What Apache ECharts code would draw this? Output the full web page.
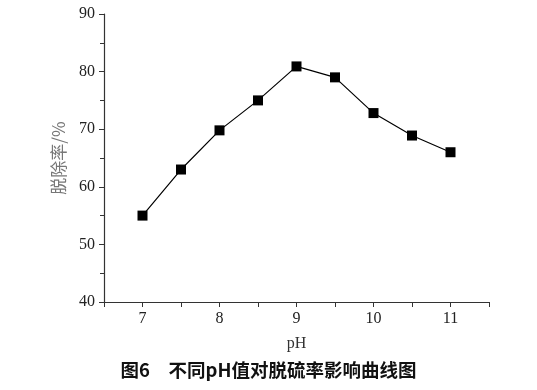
<!DOCTYPE html>
<html><head><meta charset="utf-8">
<script src="https://cdn.jsdelivr.net/npm/echarts@6/dist/echarts.min.js"></script>
<style>html,body{margin:0;padding:0;background:#fff}#c{width:537px;height:390px}</style>
</head><body><div id="c"></div>
<script>
const phValues = [7, 7.5, 8, 8.5, 9, 9.5, 10, 10.5, 11];
const removalRate = [55, 63, 69.8, 75, 80.9, 79, 72.8, 68.9, 66];
const xLabel = 'pH';
const yLabel = '脱除率/%';
const caption = '图6\u3000不同pH值对脱硫率影响曲线图';

const chart = echarts.init(document.getElementById('c'));
const serif = '"Liberation Serif","DejaVu Serif",serif';
chart.setOption({
  animation: false,
  backgroundColor: '#fff',
  grid: {left: 104, top: 14, right: 48, bottom: 88},
  xAxis: {
    type: 'value', min: 6.5, max: 11.5, interval: 0.5,
    name: xLabel, nameLocation: 'middle', nameGap: 34,
    nameTextStyle: {fontFamily: serif, fontSize: 16, color: '#333'},
    axisLine: {onZero: false, lineStyle: {color: '#333', width: 1.2}},
    axisTick: {show: true, length: 5, inside: false, lineStyle: {color: '#333'}},
    axisLabel: {fontFamily: serif, fontSize: 16, color: '#222', margin: 9,
      formatter: v => Number.isInteger(v) ? String(v) : ''},
    splitLine: {show: false}
  },
  yAxis: {
    type: 'value', min: 40, max: 90, interval: 10,
    name: yLabel, nameLocation: 'middle', nameGap: 37, nameRotate: 90,
    nameTextStyle: {fontFamily: '"Noto Sans CJK SC",sans-serif', fontSize: 17, color: '#777'},
    axisLine: {show: true, lineStyle: {color: '#333', width: 1.2}},
    axisTick: {show: true, length: 5, lineStyle: {color: '#333'}},
    minorTick: {show: true, splitNumber: 2, length: 4, lineStyle: {color: '#333'}},
    axisLabel: {fontFamily: serif, fontSize: 16, color: '#222', margin: 9},
    splitLine: {show: false}
  },
  series: [{
    type: 'line',
    data: phValues.map((x, i) => [x, removalRate[i]]),
    symbol: 'rect', symbolSize: 10,
    lineStyle: {color: '#000', width: 1.2},
    itemStyle: {color: '#000'}
  }],
  graphic: [{
    type: 'text', left: 'center', top: 361,
    style: {text: caption, font: 'bold 18.5px "Noto Sans CJK SC",sans-serif', fill: '#111'}
  }]
});
</script></body></html>
